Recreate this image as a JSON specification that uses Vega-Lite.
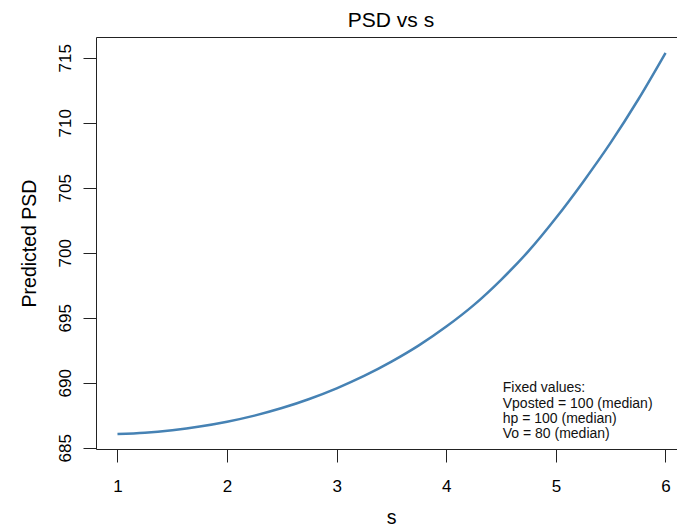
{
  "$schema": "https://vega.github.io/schema/vega-lite/v6.json",
  "width": 581,
  "height": 412,
  "autosize": {"type": "none"},
  "padding": {"left": 96, "top": 37, "right": 0, "bottom": 79},
  "background": "white",
  "config": {
    "view": {"stroke": null},
    "font": "Liberation Sans",
    "axis": {
      "domainColor": "#222",
      "tickColor": "#222",
      "labelColor": "#000",
      "titleColor": "#000",
      "tickSize": 13,
      "labelFontSize": 17,
      "labelFont": "Liberation Sans",
      "titleFont": "Liberation Sans",
      "titleFontWeight": "normal",
      "titleFontSize": 19.5,
      "grid": false,
      "domainWidth": 1,
      "tickWidth": 1,
      "labelFlush": false
    }
  },
  "title": {
    "text": "PSD vs s",
    "fontSize": 21,
    "fontWeight": "normal",
    "font": "Liberation Sans",
    "color": "#000",
    "baseline": "alphabetic",
    "offset": 11,
    "dx": 4.5,
    "dy": 22
  },
  "data": {
    "values": [
      {"s": 1.0, "psd": 686.05},
      {"s": 1.25, "psd": 686.15},
      {"s": 1.5, "psd": 686.35},
      {"s": 1.75, "psd": 686.63},
      {"s": 2.0, "psd": 687.0},
      {"s": 2.25, "psd": 687.47},
      {"s": 2.5, "psd": 688.05},
      {"s": 2.75, "psd": 688.75},
      {"s": 3.0, "psd": 689.57},
      {"s": 3.25, "psd": 690.52},
      {"s": 3.5, "psd": 691.62},
      {"s": 3.75, "psd": 692.87},
      {"s": 4.0, "psd": 694.32},
      {"s": 4.25, "psd": 695.97},
      {"s": 4.5, "psd": 697.92},
      {"s": 4.75, "psd": 700.12},
      {"s": 5.0, "psd": 702.67},
      {"s": 5.25, "psd": 705.47},
      {"s": 5.5, "psd": 708.47},
      {"s": 5.75, "psd": 711.77},
      {"s": 6.0, "psd": 715.37}
    ]
  },
  "layer": [
    {
      "mark": {"type": "line", "interpolate": "monotone", "stroke": "#4682B4", "strokeWidth": 2.5},
      "encoding": {
        "x": {
          "field": "s",
          "type": "quantitative",
          "scale": {"domain": [0.804, 6.105], "nice": false, "zero": false},
          "axis": {
            "orient": "bottom",
            "values": [1, 2, 3, 4, 5, 6],
            "labelPadding": 16,
            "title": "s",
            "titleX": 295,
            "titleY": 74,
            "titleAlign": "center",
            "titleBaseline": "alphabetic"
          }
        },
        "y": {
          "field": "psd",
          "type": "quantitative",
          "scale": {"domain": [684.9, 716.6], "nice": false, "zero": false},
          "axis": {
            "values": [685, 690, 695, 700, 705, 710, 715],
            "labelAngle": 270,
            "labelAlign": "center",
            "labelBaseline": "alphabetic",
            "labelPadding": 12.5,
            "title": "Predicted PSD",
            "titleX": -61,
            "titleY": 206,
            "titleAngle": 270,
            "titleAlign": "center",
            "titleBaseline": "alphabetic"
          }
        }
      }
    },
    {
      "mark": {"type": "line", "opacity": 0},
      "encoding": {
        "x": {
          "field": "s",
          "type": "quantitative",
          "axis": {"orient": "top", "labels": false, "ticks": false, "title": null, "domain": true}
        },
        "y": {"field": "psd", "type": "quantitative"}
      }
    },
    {
      "data": {"values": [{}]},
      "mark": {
        "type": "text",
        "align": "left",
        "baseline": "middle",
        "fontSize": 14,
        "lineHeight": 15.33,
        "font": "Liberation Sans",
        "color": "#111"
      },
      "encoding": {
        "x": {"datum": 4.515, "type": "quantitative", "axis": null},
        "y": {"datum": 689.57, "type": "quantitative"},
        "text": {"value": ["Fixed values:", "Vposted = 100 (median)", "hp = 100 (median)", "Vo = 80 (median)"]}
      }
    }
  ],
  "resolve": {"axis": {"x": "independent"}}
}
